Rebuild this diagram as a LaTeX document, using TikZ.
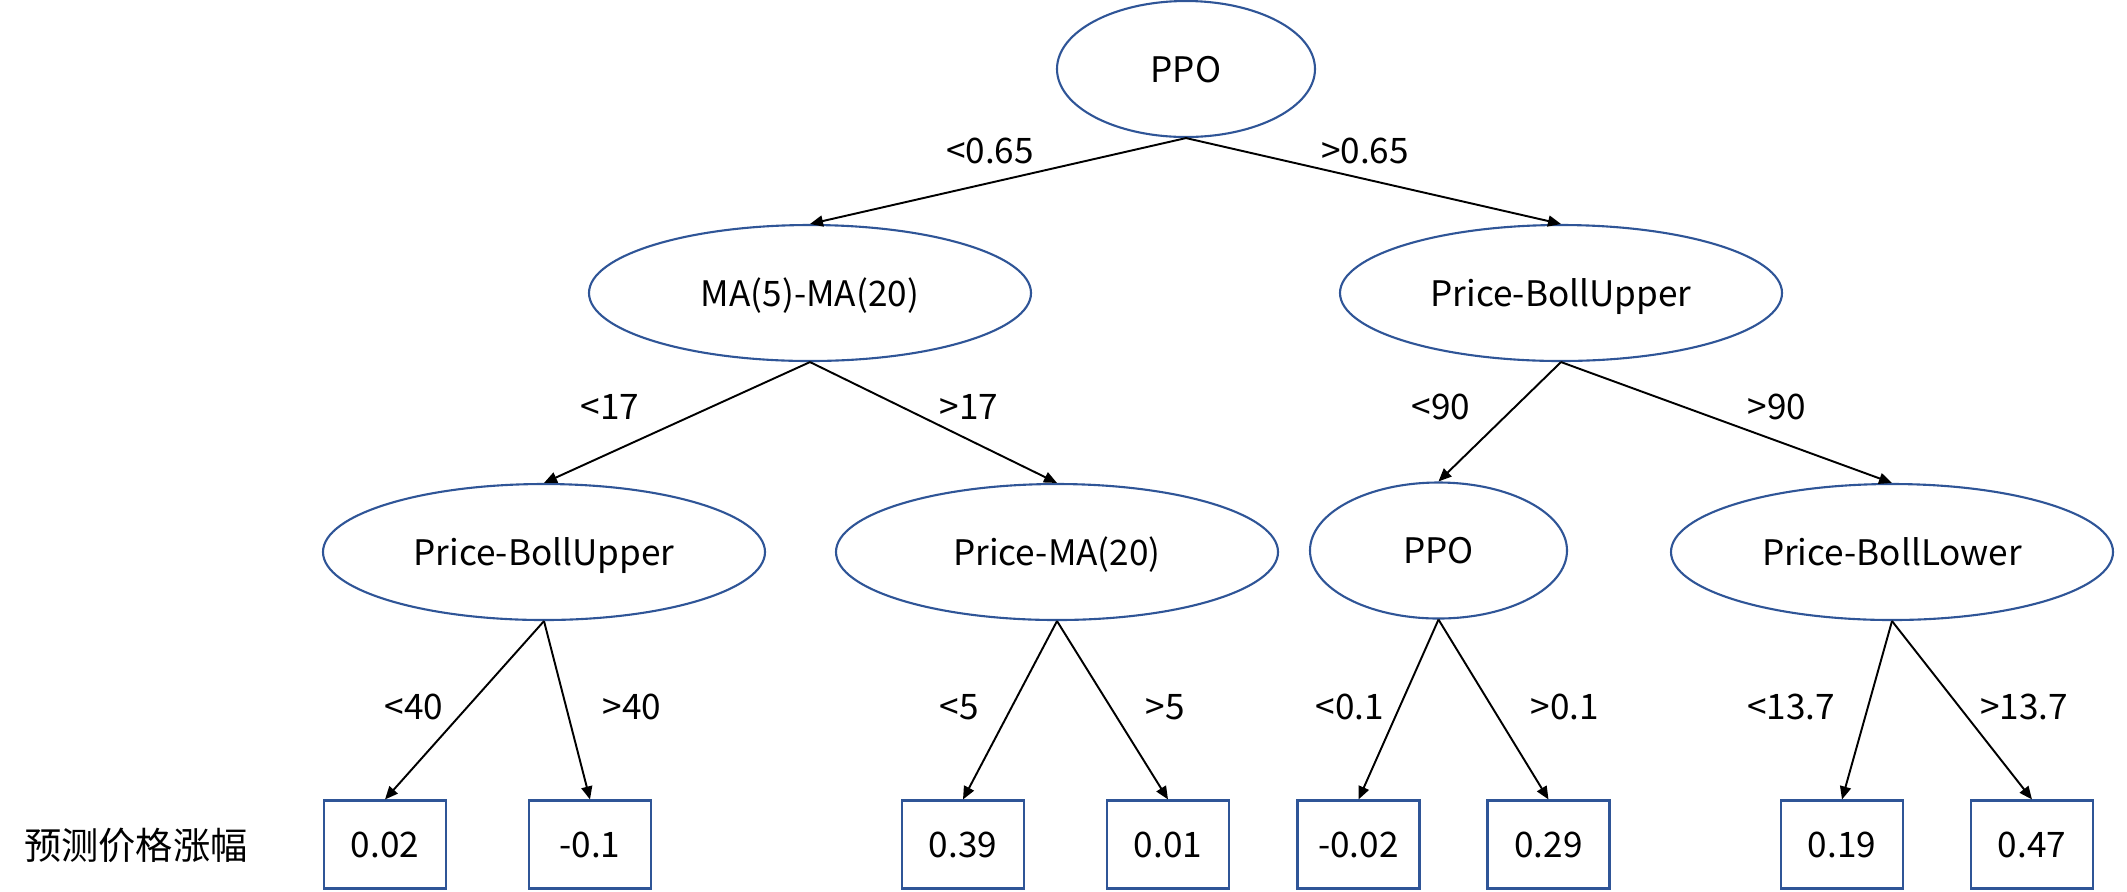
\documentclass[tikz,border=0pt]{standalone}
\usepackage{fontspec}
\setmainfont{Noto Sans CJK SC}
\usepackage{tikz}
\usetikzlibrary{arrows.meta,positioning,shapes.geometric}
\definecolor{nodeblue}{HTML}{2F5597}

\tikzset{
    split/.style={ellipse, draw=nodeblue, line width=0.6pt, minimum width=3.2cm, minimum height=1.36cm, inner sep=0pt, text height=0.9em, text depth=0.15em},
    leaf/.style={rectangle, draw=nodeblue, line width=0.6pt, minimum width=1.22cm, minimum height=0.88cm, inner sep=0pt, text height=0.9em, text depth=0.15em},
    arr/.style={-{Triangle[length=0.13cm,width=0.11cm]}, line width=0.55pt, black},
    cond/.style={inner sep=0pt}
}

\begin{document}
\begin{tikzpicture}[font=\fontsize{10}{12}\selectfont]
    \useasboundingbox (0,0) rectangle (21.27,-8.91);

    % split nodes
    \node[split, minimum width=2.58cm] (root) at (11.86,-0.69) {PPO};
    \node[split, minimum width=4.42cm] (ma) at (8.10,-2.93) {MA(5)-MA(20)};
    \node[split, minimum width=4.42cm] (pbu) at (15.61,-2.93) {Price-BollUpper};
    \node[split, minimum width=4.42cm] (pbu2) at (5.44,-5.52) {Price-BollUpper};
    \node[split, minimum width=4.42cm] (pma) at (10.57,-5.52) {Price-MA(20)};
    \node[split, minimum width=2.57cm] (ppo) at (14.385,-5.505) {PPO};
    \node[split, minimum width=4.42cm] (pbl) at (18.92,-5.52) {Price-BollLower};

    % leaves
    \node[leaf] (l1) at (3.85,-8.445) {0.02};
    \node[leaf] (l2) at (5.90,-8.445) {-0.1};
    \node[leaf] (l3) at (9.63,-8.445) {0.39};
    \node[leaf] (l4) at (11.68,-8.445) {0.01};
    \node[leaf] (l5) at (13.585,-8.445) {-0.02};
    \node[leaf] (l6) at (15.485,-8.445) {0.29};
    \node[leaf] (l7) at (18.42,-8.445) {0.19};
    \node[leaf] (l8) at (20.32,-8.445) {0.47};

    \node[font=\fontsize{10.6}{12}\selectfont] (title) at (1.36,-8.45) {预测价格涨幅};

    % connectors
    \draw[arr] (root.south) -- (ma.north);
    \draw[arr] (root.south) -- (pbu.north);
    \draw[arr] (ma.south) -- (pbu2.north);
    \draw[arr] (ma.south) -- (pma.north);
    \draw[arr] (pbu.south) -- (ppo.north);
    \draw[arr] (pbu.south) -- (pbl.north);
    \draw[arr] (pbu2.south) -- (l1.north);
    \draw[arr] (pbu2.south) -- (l2.north);
    \draw[arr] (pma.south) -- (l3.north);
    \draw[arr] (pma.south) -- (l4.north);
    \draw[arr] (ppo.south) -- (l5.north);
    \draw[arr] (ppo.south) -- (l6.north);
    \draw[arr] (pbl.south) -- (l7.north);
    \draw[arr] (pbl.south) -- (l8.north);

    % conditions
    \node[cond] (c1) at (9.90,-1.51) {<0.65};
    \node[cond] (c2) at (13.65,-1.51) {>0.65};
    \node[cond] (c3) at (6.10,-4.07) {<17};
    \node[cond] (c4) at (9.69,-4.07) {>17};
    \node[cond] (c5) at (14.41,-4.07) {<90};
    \node[cond] (c6) at (17.77,-4.07) {>90};
    \node[cond] (c7) at (4.14,-7.07) {<40};
    \node[cond] (c8) at (6.32,-7.07) {>40};
    \node[cond] (c9) at (9.59,-7.07) {<5};
    \node[cond] (c10) at (11.65,-7.07) {>5};
    \node[cond] (c11) at (13.50,-7.07) {<0.1};
    \node[cond] (c12) at (15.65,-7.07) {>0.1};
    \node[cond] (c13) at (17.91,-7.07) {<13.7};
    \node[cond] (c14) at (20.24,-7.07) {>13.7};
\end{tikzpicture}
\end{document}
